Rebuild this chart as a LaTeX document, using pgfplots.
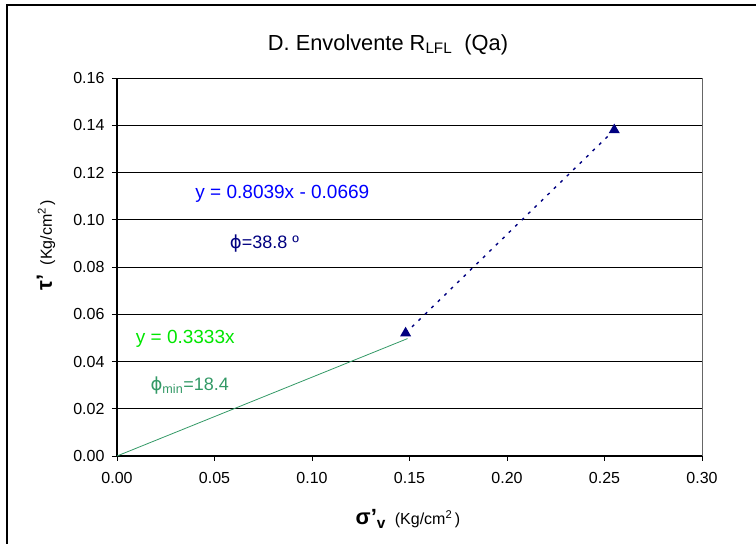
\documentclass[border=0pt]{standalone}
\usepackage{pgfplots}
\pgfplotsset{compat=1.18}
\usepackage{fontspec}
\setmainfont{Liberation Sans}
\newfontfamily\dv{DejaVu Sans}
\definecolor{navyc}{RGB}{0,0,128}
\definecolor{bluec}{RGB}{0,0,255}
\definecolor{limec}{RGB}{0,230,0}
\definecolor{seac}{RGB}{51,153,102}
\begin{document}
\begin{tikzpicture}[x=1pt,y=1pt]
\useasboundingbox (0,0) rectangle (756,544);
\draw[line width=1.2pt] (7,-10) -- (7,539) -- (770,539);
\begin{axis}[
  at={(117pt,88pt)}, anchor=origin,
  scale only axis, width=585pt, height=378pt,
  xmin=0, xmax=0.3, ymin=0, ymax=0.16,
  xtick={0,0.05,...,0.3}, ytick={0,0.02,...,0.16},
  xtick pos=bottom, ytick pos=left,
  axis line style={draw=none},
  ymajorgrids, grid style={black, line width=0.9pt},
  tick style={black, line width=0.9pt}, tick align=outside,
  major tick length=5pt,
  xticklabel style={yshift=-8pt, /pgf/number format/.cd, fixed, fixed zerofill, precision=2},
  yticklabel style={xshift=-4pt, /pgf/number format/.cd, fixed, fixed zerofill, precision=2},
  /pgf/number format/assume math mode=true,
  ticklabel style={font=\fontsize{16}{18}\selectfont},
  clip=false,
]
\draw[gray!80!black, line width=1pt] (axis cs:0.3,0) -- (axis cs:0.3,0.16);
\draw[black, line width=1.4pt] (axis cs:0,0) -- (axis cs:0,0.16);
\draw[black, line width=1.4pt] (axis cs:0,0) -- (axis cs:0.3,0);
\addplot[seac, line width=0.8pt, mark=none] coordinates {(0,0) (0.149,0.0497)};
\addplot[navyc, line width=1.4pt, dash pattern=on 3pt off 6pt, mark=triangle*, mark size=5pt,
  mark options={solid, fill=navyc, draw=navyc}] coordinates {(0.148,0.052) (0.255,0.138)};
\node[bluec, font=\fontsize{19}{21}\selectfont] at (axis cs:0.0848,0.111) {y = 0.8039x - 0.0669};
\node[navyc, font=\fontsize{18}{20}\selectfont] at (axis cs:0.0756,0.0898) {{\dv ϕ}=38.8 º};
\node[limec, font=\fontsize{19}{21}\selectfont] at (axis cs:0.0350,0.0498) {y = 0.3333x};
\node[seac, font=\fontsize{18}{20}\selectfont] at (axis cs:0.0373,0.0298) {{\dv ϕ}\textsubscript{min}=18.4};
\end{axis}
\node[font=\fontsize{21.8}{24}\selectfont] at (388,499) {D. Envolvente R\textsubscript{LFL}\ \ (Qa)};
\node[font=\fontsize{16}{18}\selectfont] at (408,25) {\textbf{\fontsize{22}{24}\selectfont σ'\textsubscript{v}}\ \ (Kg/cm\textsuperscript{2}\,)};
\node[rotate=90, font=\fontsize{16}{18}\selectfont] at (46,299) {\textbf{\fontsize{22}{24}\selectfont τ'}\ \ (Kg/cm\textsuperscript{2}\,)};
\end{tikzpicture}
\end{document}
